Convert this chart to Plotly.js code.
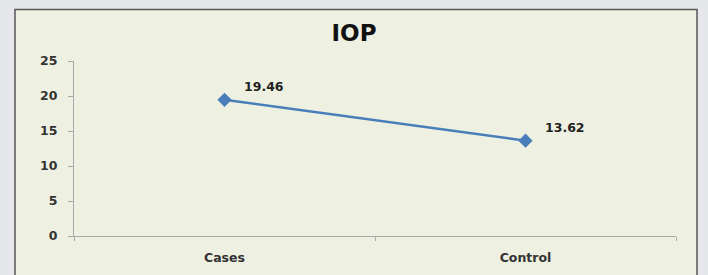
<!DOCTYPE html>
<html>
<head>
<meta charset="utf-8">
<script src="https://cdn.plot.ly/plotly-3.0.1.min.js"></script>
<style>html,body{margin:0;padding:0;background:#e6e7ea;}#chart{width:708px;height:275px;}</style>
</head>
<body>
<div id="chart"></div>
<script>
const categories = ["Cases", "Control"];
const iopValues = [19.46, 13.62];
const valueLabels = ["19.46", "13.62"];
const yTicks = [0, 5, 10, 15, 20, 25];

const trace = {
  x: categories,
  y: iopValues,
  type: 'scatter',
  mode: 'lines+markers',
  line: {color: '#4a7ebb', width: 2.5},
  marker: {symbol: 'diamond', size: 11, color: '#4a7ebb'},
  cliponaxis: false,
  hoverinfo: 'none'
};

const labelFont = {family: 'DejaVu Sans', size: 12.5, color: '#222', weight: 'bold'};
const tickFont = {family: 'DejaVu Sans', size: 12.5, color: '#333', weight: 'bold'};

const layout = {
  width: 708, height: 275,
  margin: {l: 74, r: 32, t: 61, b: 39},
  paper_bgcolor: '#e6e7ea',
  plot_bgcolor: 'rgba(0,0,0,0)',
  showlegend: false,
  title: {text: '<b>IOP</b>', font: {family: 'DejaVu Sans', size: 23, color: '#111'},
          x: 0.5, xanchor: 'center', y: 1 - 33/275, yref: 'container', yanchor: 'middle'},
  xaxis: {
    type: 'category', range: [-0.5, 1.5], tickson: 'boundaries',
    showline: true, linecolor: '#a8a8a8', linewidth: 1,
    ticks: 'outside', ticklen: 4, tickcolor: '#a8a8a8',
    ticklabelstandoff: 10,
    showgrid: false, zeroline: false,
    tickfont: tickFont
  },
  yaxis: {
    range: [0, 25], tickvals: yTicks, ticktext: yTicks.map(String),
    showline: true, linecolor: '#a8a8a8', linewidth: 1,
    ticks: 'outside', ticklen: 5, tickcolor: '#a8a8a8',
    ticklabelstandoff: 8,
    showgrid: false, zeroline: false,
    tickfont: tickFont
  },
  annotations: categories.map((c, i) => ({
    x: c, y: iopValues[i], xref: 'x', yref: 'y',
    text: valueLabels[i], showarrow: false,
    xanchor: 'left', yanchor: 'middle', xshift: 17, yshift: 13,
    font: labelFont
  })),
  shapes: [{
    type: 'rect', xref: 'paper', yref: 'paper', layer: 'below',
    x0: (15 - 74) / 602, x1: (697 - 74) / 602,
    y0: -0.4, y1: (236 - 9.5) / 175,
    fillcolor: '#eef1e1', line: {color: '#555', width: 1.5}
  }]
};

Plotly.newPlot('chart', [trace], layout, {staticPlot: true, displayModeBar: false});
</script>
</body>
</html>
